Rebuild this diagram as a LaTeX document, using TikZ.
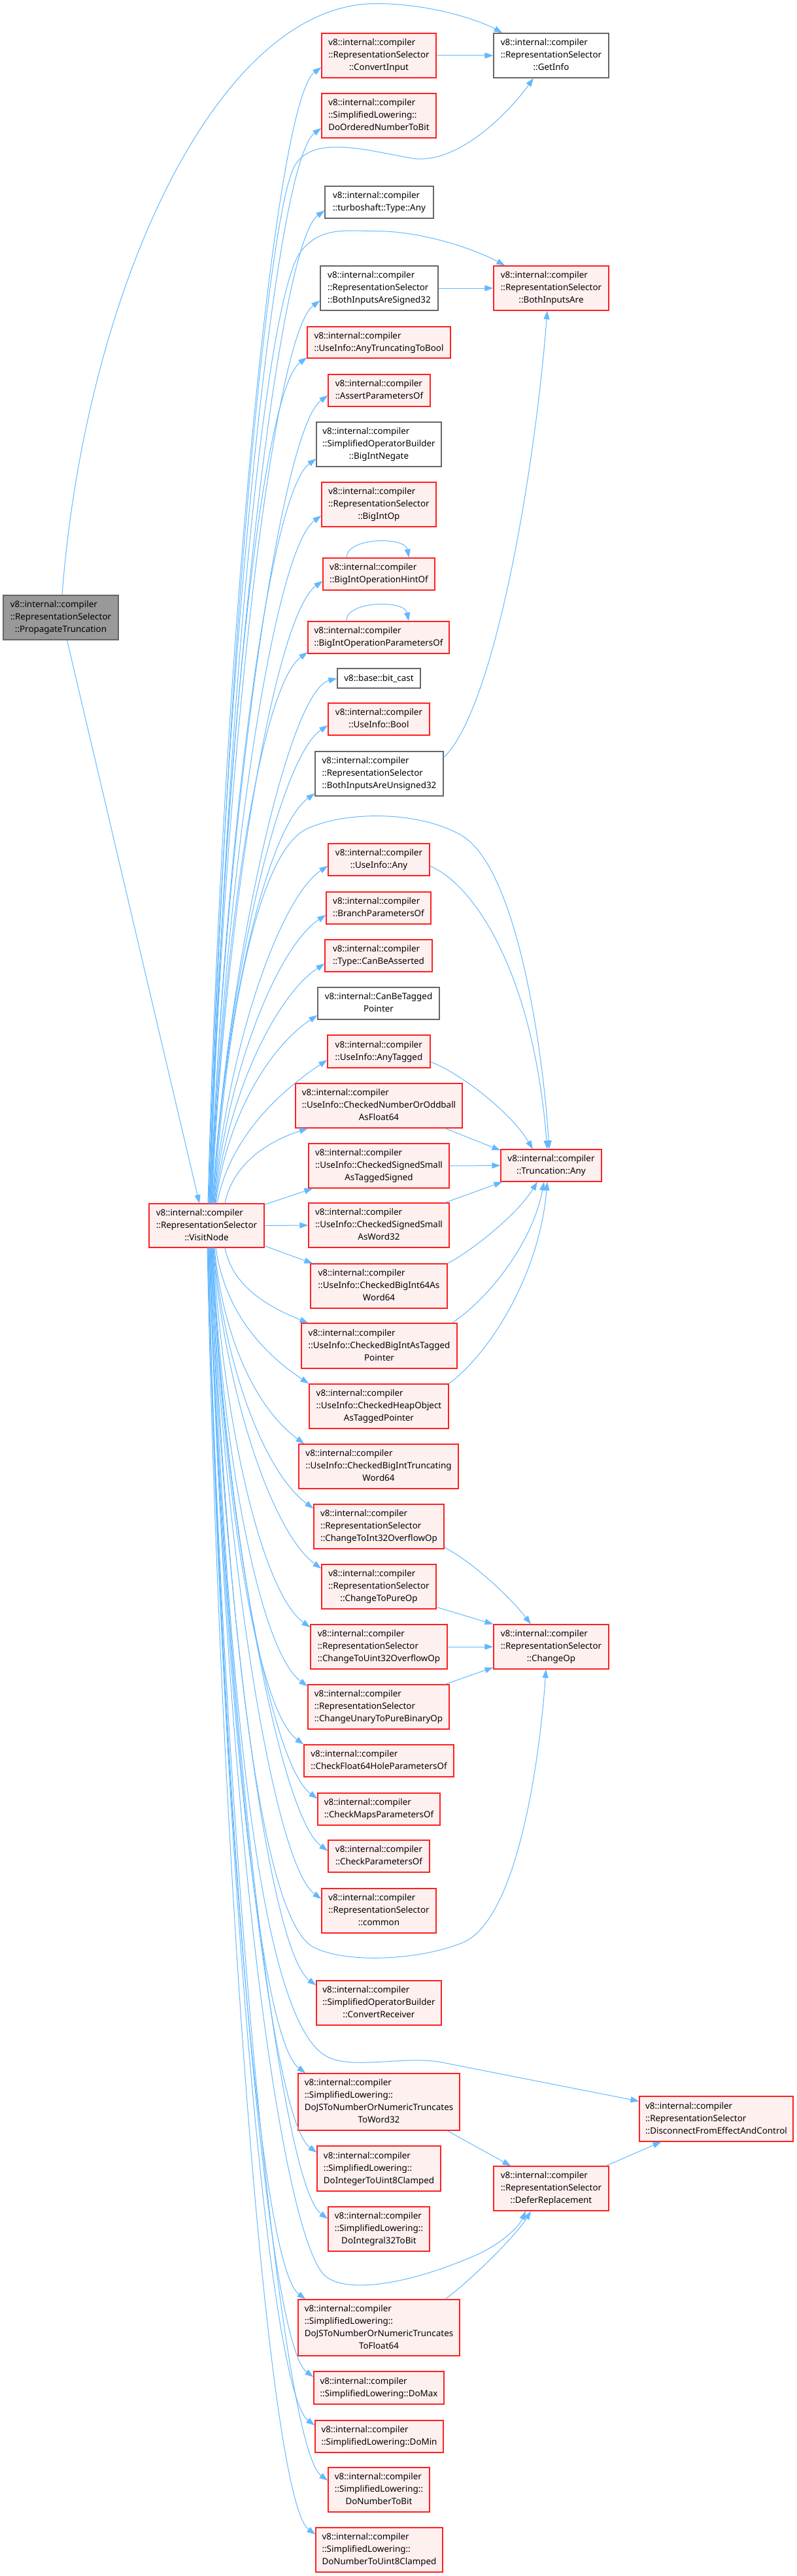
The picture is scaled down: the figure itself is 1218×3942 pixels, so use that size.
\documentclass[tikz,border=0pt]{standalone}
\usepackage{fontspec}
\setmainfont{Noto Sans}
\usetikzlibrary{arrows.meta,calc}
\definecolor{edgec}{HTML}{63B8FF}
\definecolor{redb}{HTML}{FF2020}
\definecolor{fillr}{HTML}{FFF0F0}
\definecolor{grayb}{HTML}{666666}
\definecolor{grayf}{HTML}{999999}
\newcommand\vic{v8::internal::compiler}
\newcommand\rsel{::RepresentationSelector}
\newcommand\lbl[2]{\begin{tabular}{@{}l@{}}#1\\\multicolumn{1}{@{}c@{}}{#2}\end{tabular}}
\newcommand\bx[6]{\node[#1,minimum width={(#4)-(#2)},minimum height={(#5)-(#3)}] (#6) at ({(#2+#4)/2},{(#3+#5)/2})}
\newcommand\upe[3]{\draw[cedge] let \p1=([xshift=#1pt]visit.north), \p2=(#2) in (\p1) .. controls ({\x1+0.2*(\x2-75pt-\x1)},{\y1+0.45*(\y2-\y1)}) and ({\x2-75pt},{\y2-#3pt}) .. (\p2);}
\newcommand\dne[3]{\draw[cedge] let \p1=([xshift=#1pt]visit.south), \p2=(#2) in (\p1) .. controls ({\x1+0.2*(\x2-75pt-\x1)},{\y1+0.45*(\y2-\y1)}) and ({\x2-75pt},{\y2+#3pt}) .. (\p2);}
\tikzset{
  nbox/.style={draw, line width=1.2pt, inner sep=0pt, font=\fontsize{13.4}{19}\selectfont},
  rbox/.style={nbox, draw=redb, fill=fillr},
  wbox/.style={nbox, draw=grayb, fill=white},
  gbox/.style={nbox, draw=grayb, fill=grayf},
  cedge/.style={draw=edgec, line width=1pt, -{Triangle[length=13pt,width=9pt]}}
}
\begin{document}
\begin{tikzpicture}[x=1pt,y=-1pt]
\fill[white] (0,0) rectangle (1218,3942);
\useasboundingbox (0,0) rectangle (1218,3942);
% nodes
\bx{gbox}{5}{911}{181}{979}{prop}{\lbl{\vic\\\rsel}{::PropagateTruncation}};
\bx{rbox}{228}{1842}{404}{1909}{visit}{\lbl{\vic\\\rsel}{::VisitNode}};
\bx{wbox}{755}{51}{931}{119}{getinfo}{\lbl{\vic\\\rsel}{::GetInfo}};
\bx{rbox}{492}{51}{667}{119}{convin}{\lbl{\vic\\\rsel}{::ConvertInput}};
\bx{rbox}{492}{143}{667}{211}{doordered}{\lbl{\vic\\::SimplifiedLowering::}{DoOrderedNumberToBit}};
\bx{wbox}{497}{285}{663}{334}{tsany}{\lbl{\vic}{::turboshaft::Type::Any}};
\bx{wbox}{490}{407}{670}{475}{bothsig}{\lbl{\vic\\\rsel}{::BothInputsAreSigned32}};
\bx{rbox}{755}{407}{931}{475}{bothare}{\lbl{\vic\\\rsel}{::BothInputsAre}};
\bx{rbox}{470}{500}{689}{548}{anytrunc}{\lbl{\vic}{::UseInfo::AnyTruncatingToBool}};
\bx{rbox}{502}{573}{658}{622}{assertp}{\lbl{\vic}{::AssertParametersOf}};
\bx{wbox}{484}{646}{675}{714}{bigneg}{\lbl{\vic\\::SimplifiedOperatorBuilder}{::BigIntNegate}};
\bx{rbox}{492}{738}{667}{806}{bigop}{\lbl{\vic\\\rsel}{::BigIntOp}};
\bx{rbox}{494}{854}{665}{903}{hint}{\lbl{\vic}{::BigIntOperationHintOf}};
\bx{rbox}{471}{951}{687}{1000}{bigparams}{\lbl{\vic}{::BigIntOperationParametersOf}};
\bx{wbox}{516}{1023}{643}{1053}{bitcast}{v8::base::bit\_cast};
\bx{rbox}{502}{1076}{657}{1125}{uibool}{\lbl{\vic}{::UseInfo::Bool}};
\bx{wbox}{482}{1150}{678}{1218}{bothuns}{\lbl{\vic\\\rsel}{::BothInputsAreUnsigned32}};
\bx{rbox}{502}{1291}{657}{1340}{uiany}{\lbl{\vic}{::UseInfo::Any}};
\bx{rbox}{499}{1365}{659}{1414}{branch}{\lbl{\vic}{::BranchParametersOf}};
\bx{rbox}{497}{1438}{661}{1487}{canbeasserted}{\lbl{\vic}{::Type::CanBeAsserted}};
\bx{wbox}{486}{1511}{672}{1560}{canbetagged}{\lbl{v8::internal::CanBeTagged}{Pointer}};
\bx{rbox}{501}{1584}{658}{1634}{anytagged}{\lbl{\vic}{::UseInfo::AnyTagged}};
\bx{rbox}{452}{1658}{707}{1726}{oddball}{\lbl{\vic\\::UseInfo::CheckedNumberOrOddball}{AsFloat64}};
\bx{rbox}{472}{1750}{687}{1818}{tagsigned}{\lbl{\vic\\::UseInfo::CheckedSignedSmall}{AsTaggedSigned}};
\bx{rbox}{766}{1759}{920}{1808}{truncany}{\lbl{\vic}{::Truncation::Any}};
\bx{rbox}{472}{1841}{687}{1909}{word32}{\lbl{\vic\\::UseInfo::CheckedSignedSmall}{AsWord32}};
\bx{rbox}{475}{1934}{684}{2002}{bi64}{\lbl{\vic\\::UseInfo::CheckedBigInt64As}{Word64}};
\bx{rbox}{461}{2025}{699}{2094}{bitagged}{\lbl{\vic\\::UseInfo::CheckedBigIntAsTagged}{Pointer}};
\bx{rbox}{473}{2118}{686}{2186}{heapobj}{\lbl{\vic\\::UseInfo::CheckedHeapObject}{AsTaggedPointer}};
\bx{rbox}{457}{2210}{701}{2278}{bitrunc}{\lbl{\vic\\::UseInfo::CheckedBigIntTruncating}{Word64}};
\bx{rbox}{480}{2302}{679}{2370}{chi32}{\lbl{\vic\\\rsel}{::ChangeToInt32OverflowOp}};
\bx{rbox}{492}{2394}{667}{2462}{chpure}{\lbl{\vic\\\rsel}{::ChangeToPureOp}};
\bx{rbox}{475}{2486}{684}{2554}{chu32}{\lbl{\vic\\\rsel}{::ChangeToUint32OverflowOp}};
\bx{rbox}{755}{2486}{931}{2554}{changeop}{\lbl{\vic\\\rsel}{::ChangeOp}};
\bx{rbox}{471}{2578}{687}{2646}{chunary}{\lbl{\vic\\\rsel}{::ChangeUnaryToPureBinaryOp}};
\bx{rbox}{465}{2670}{694}{2719}{f64hole}{\lbl{\vic}{::CheckFloat64HoleParametersOf}};
\bx{rbox}{486}{2744}{673}{2793}{checkmaps}{\lbl{\vic}{::CheckMapsParametersOf}};
\bx{rbox}{502}{2816}{657}{2865}{checkparams}{\lbl{\vic}{::CheckParametersOf}};
\bx{rbox}{492}{2890}{667}{2958}{common}{\lbl{\vic\\\rsel}{::common}};
\bx{rbox}{484}{3031}{675}{3099}{convrecv}{\lbl{\vic\\::SimplifiedOperatorBuilder}{::ConvertReceiver}};
\bx{rbox}{456}{3173}{703}{3260}{toword32}{\lbl{\vic\\::SimplifiedLowering::\\DoJSToNumberOrNumericTruncates}{ToWord32}};
\bx{rbox}{978}{3208}{1213}{3277}{disconnect}{\lbl{\vic\\\rsel}{::DisconnectFromEffectAndControl}};
\bx{rbox}{485}{3284}{674}{3353}{dointuint8}{\lbl{\vic\\::SimplifiedLowering::}{DoIntegerToUint8Clamped}};
\bx{rbox}{502}{3377}{657}{3445}{dointegral}{\lbl{\vic\\::SimplifiedLowering::}{DoIntegral32ToBit}};
\bx{rbox}{755}{3315}{931}{3383}{defer}{\lbl{\vic\\\rsel}{::DeferReplacement}};
\bx{rbox}{456}{3519}{703}{3605}{tofloat64}{\lbl{\vic\\::SimplifiedLowering::\\DoJSToNumberOrNumericTruncates}{ToFloat64}};
\bx{rbox}{480}{3629}{679}{3679}{domax}{\lbl{\vic}{::SimplifiedLowering::DoMax}};
\bx{rbox}{482}{3704}{678}{3753}{domin}{\lbl{\vic}{::SimplifiedLowering::DoMin}};
\bx{rbox}{502}{3776}{657}{3844}{donumbit}{\lbl{\vic\\::SimplifiedLowering::}{DoNumberToBit}};
\bx{rbox}{483}{3868}{677}{3936}{donumuint8}{\lbl{\vic\\::SimplifiedLowering::}{DoNumberToUint8Clamped}};
% edges from PropagateTruncation
\draw[cedge] ([xshift=9.5pt]prop.south) -- ([xshift=-11pt]visit.north);
\draw[cedge] ([xshift=2pt]prop.north) .. controls (130,450) and (330,5.5) .. (575,5.5) .. controls (660,5.5) and (735,32) .. ($(getinfo.north west)+(14,0)$);
% simple edges
\draw[cedge] (convin.east) -- (getinfo.west);
\draw[cedge] (bothsig.east) -- (bothare.west);
\draw[cedge] ($(bothuns.north east)+(0,10)$) .. controls (760,1080) and (820,700) .. ([xshift=-6pt]bothare.south);
\draw[cedge] ([xshift=-49pt]hint.north) .. controls +(-2,-31) and +(-6,-33) .. ([xshift=46pt]hint.north);
\draw[cedge] ([xshift=-49pt]bigparams.north) .. controls +(-2,-31) and +(-6,-33) .. ([xshift=46pt]bigparams.north);
% into Truncation::Any
\draw[cedge] ($(uiany.east)+(0,10)$) .. controls (720,1350) and (815,1480) .. ([xshift=-6pt]truncany.north);
\draw[cedge] ($(anytagged.east)+(0,16)$) .. controls (700,1640) and (780,1700) .. ([xshift=-28pt]truncany.north);
\draw[cedge] ($(oddball.south east)+(-27,0)$) -- ($(truncany.north west)+(0,2)$);
\draw[cedge] (tagsigned.east) -- (truncany.west);
\draw[cedge] ($(word32.north east)+(-7,0)$) -- ($(truncany.south west)+(3,0)$);
\draw[cedge] (bi64.north east) .. controls (720,1915) and (790,1860) .. ([xshift=-21pt]truncany.south);
\draw[cedge] ($(bitagged.north east)+(-8,0)$) .. controls (750,1985) and (815,1900) .. ([xshift=-11pt]truncany.south);
\draw[cedge] (heapobj.north east) .. controls (750,2070) and (825,1950) .. ([xshift=-6pt]truncany.south);
% into ChangeOp
\draw[cedge] ($(chi32.south east)+(0,-3)$) .. controls (730,2395) and (785,2450) .. ([xshift=-31pt]changeop.north);
\draw[cedge] ($(chpure.south east)+(1,-3)$) -- (changeop.north west);
\draw[cedge] (chu32.east) -- (changeop.west);
\draw[cedge] ($(chunary.north east)+(-7,0)$) -- ($(changeop.south west)+(0,-3)$);
% into DeferReplacement / Disconnect
\draw[cedge] ($(toword32.south east)+(-19.5,0)$) -- ($(defer.north west)+(27,0)$);
\draw[cedge] ($(tofloat64.north east)+(-23,0)$) .. controls (720,3490) and (790,3420) .. ([xshift=-31pt]defer.south);
\draw[cedge] ($(defer.north east)+(-5,0)$) -- ($(disconnect.south west)+(34,0)$);
% VisitNode: arcs
\draw[cedge] ([xshift=4pt]visit.north) .. controls (345,1000) and (410,330) .. (450,255) .. controls (477,205) and (560,230) .. (629,242) .. controls (700,254) and (780,170) .. ([xshift=-27pt]getinfo.south);
\draw[cedge] ([xshift=5pt]visit.north) .. controls (350,1000) and (410,450) .. (460,385) .. controls (490,346) and (530,353.6) .. (575,353.6) .. controls (640,353.6) and (720,378) .. ($(bothare.north west)+(18,0)$);
\draw[cedge] ([xshift=11pt]visit.north) .. controls (350,1520) and (400,1300) .. (470,1268) .. controls (530,1241) and (640,1240) .. (707,1279) .. controls (790,1330) and (830,1600) .. ([xshift=-3pt]truncany.north);
\draw[cedge] ([xshift=7pt]visit.south) .. controls (348,2500) and (400,2940) .. (480,2980) .. controls (530,3005) and (640,3000) .. (707,2973) .. controls (790,2940) and (825,2700) .. ([xshift=-8pt]changeop.south);
\draw[cedge] ([xshift=6pt]visit.south) .. controls (350,2700) and (410,3100) .. (500,3147) .. controls (540,3168) and (620,3145) .. (676,3156) -- ($(disconnect.north west)+(0,8)$);
\draw[cedge] ([xshift=4pt]visit.south) .. controls (350,2900) and (440,3445) .. (500,3485) .. controls (540,3512) and (640,3490) .. (730,3450) .. controls (770,3432) and (795,3405) .. ([xshift=-39pt]defer.south);
% VisitNode: side edges
\draw[cedge] ($(visit.north east)+(0,2)$) -- ($(tagsigned.south west)+(7,0)$);
\draw[cedge] (visit.east) -- (word32.west);
\draw[cedge] ($(visit.south east)+(0,-3)$) -- ($(bi64.north west)+(4,0)$);
% VisitNode: upward
\upe{2}{$(convin.west)+(0,18)$}{55}
\upe{3}{$(doordered.west)+(0,19)$}{55}
\upe{4}{$(tsany.west)+(0,12.5)$}{55}
\upe{5}{$(bothsig.west)+(0,19)$}{55}
\upe{6}{$(anytrunc.west)+(0,23)$}{55}
\upe{6}{$(assertp.west)+(0,7.5)$}{55}
\upe{7}{$(bigneg.west)+(0,22)$}{55}
\upe{7}{$(bigop.west)+(0,17)$}{55}
\upe{8}{$(hint.west)+(0,10.5)$}{55}
\upe{8}{$(bigparams.west)+(0,22.5)$}{55}
\upe{9}{bitcast.west}{20}
\upe{9}{$(uibool.west)+(0,9.5)$}{50}
\upe{10}{$(bothuns.west)+(0,30)$}{55}
\upe{11}{$(uiany.west)+(0,9.5)$}{50}
\upe{12}{$(branch.west)+(0,10.5)$}{50}
\upe{13}{$(canbeasserted.west)+(0,12)$}{50}
\upe{14}{$(canbetagged.west)+(0,18)$}{50}
\upe{16}{$(anytagged.west)+(0,13)$}{50}
\upe{28}{$(oddball.south west)+(19.5,0)$}{25}
% VisitNode: downward
\dne{28}{$(bitagged.north west)+(11,0)$}{30}
\dne{14}{heapobj.north west}{50}
\dne{12}{$(bitrunc.north west)+(9,0)$}{55}
\dne{11}{$(chi32.north west)+(0,7)$}{55}
\dne{10}{$(chpure.north west)+(0,7)$}{55}
\dne{10}{$(chu32.north west)+(0,5)$}{55}
\dne{9}{$(chunary.north west)+(0,3)$}{55}
\dne{9}{f64hole.north west}{55}
\dne{8}{$(checkmaps.north west)+(0,9)$}{55}
\dne{8}{$(checkparams.north west)+(0,17)$}{55}
\dne{7}{$(common.north west)+(0,16.5)$}{55}
\dne{6}{$(convrecv.north west)+(0,7.6)$}{55}
\dne{5}{$(toword32.north west)+(12,0)$}{55}
\dne{5}{$(dointuint8.north west)+(0,10.5)$}{55}
\dne{4}{$(dointegral.north west)+(0,19)$}{55}
\dne{3}{$(tofloat64.north west)+(12,0)$}{55}
\dne{3}{$(domax.north west)+(0,9)$}{55}
\dne{2}{$(domin.north west)+(0,8)$}{55}
\dne{2}{$(donumbit.north west)+(0,20.5)$}{55}
\dne{1}{$(donumuint8.north west)+(0,11)$}{55}
\end{tikzpicture}
\end{document}
